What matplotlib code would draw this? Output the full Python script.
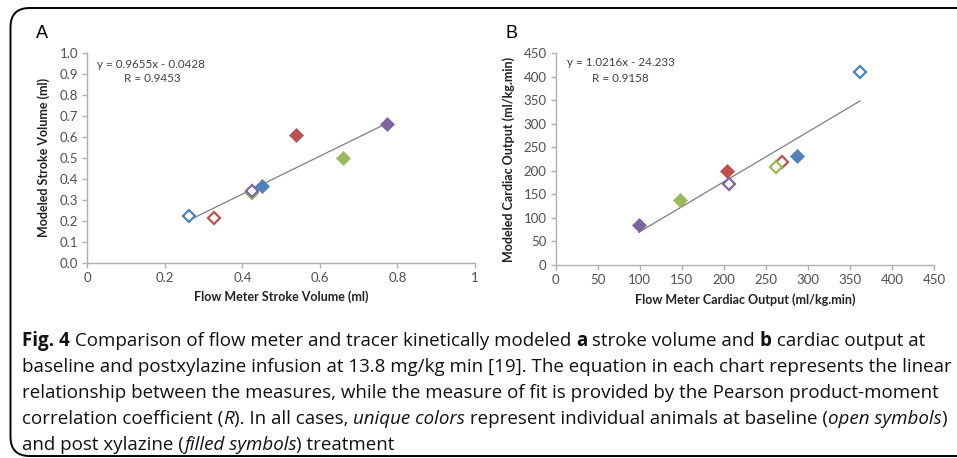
import matplotlib
matplotlib.use("Agg")
import matplotlib.pyplot as plt
from matplotlib.patches import FancyBboxPatch
from matplotlib import font_manager
import numpy as np

names = sorted({f.name for f in font_manager.fontManager.ttflist})

# ---------------- data ----------------
colors = ["#4F81BD", "#C0504D", "#9BBB59", "#8064A2"]  # blue, red, green, purple animals

sv_flow_base = [0.262, 0.328, 0.426, 0.426]
sv_model_base = [0.221, 0.214, 0.333, 0.343]
sv_flow_post = [0.450, 0.539, 0.659, 0.774]
sv_model_post = [0.365, 0.606, 0.498, 0.660]
sv_fit_x = [0.272, 0.772]
sv_fit_y = [0.211, 0.663]
sv_eq = "y = 0.9655x - 0.0428"
sv_r = "R = 0.9453"

co_flow_base = [362.0, 268.8, 262.5, 206.6]
co_model_base = [409.6, 219.0, 207.6, 172.0]
co_flow_post = [287.5, 204.2, 147.9, 98.7]
co_model_post = [231.7, 199.0, 138.0, 84.3]
co_fit_x = [98.7, 362.0]
co_fit_y = [69.5, 348.7]
co_eq = "y = 1.0216x - 24.233"
co_r = "R = 0.9158"

sv_xticks = [0, 0.2, 0.4, 0.6, 0.8, 1]
sv_xticklabels = ["0", "0.2", "0.4", "0.6", "0.8", "1"]
sv_yticks = [0.0, 0.1, 0.2, 0.3, 0.4, 0.5, 0.6, 0.7, 0.8, 0.9, 1.0]
co_xticks = list(range(0, 451, 50))
co_yticks = list(range(0, 451, 50))

W, H = 957, 458
fig = plt.figure(figsize=(W / 100, H / 100), dpi=100)

tick_font = "Lato"
axcol = "#b0b0b0"

def style(ax):
    for s in ["top", "right"]:
        ax.spines[s].set_visible(False)
    for s in ["left", "bottom"]:
        ax.spines[s].set_color(axcol)
        ax.spines[s].set_linewidth(1.0)
    ax.tick_params(direction="out", length=3.5, width=1.0, color=axcol,
                   labelsize=9.5, labelcolor="#505050", pad=3)
    for lab in ax.get_xticklabels() + ax.get_yticklabels():
        lab.set_fontfamily(tick_font)

def scatter(ax, xb, yb, xp, yp):
    for i, c in enumerate(colors):
        ax.plot(xb[i], yb[i], marker="D", ms=6.5, mfc="white", mec=c, mew=1.6,
                ls="none", zorder=3)
        ax.plot(xp[i], yp[i], marker="D", ms=7.5, mfc=c, mec=c, mew=0.5,
                ls="none", zorder=3)

lab_kw = dict(fontfamily=tick_font, fontweight="bold", fontsize=9, color="#222222")
eq_kw = dict(fontfamily=tick_font, fontsize=8.4, color="#404040", va="center", ha="left")

# Panel A
axA = fig.add_axes([87.3 / W, 1 - 262.7 / H, (475 - 87.3) / W, (262.7 - 52.7) / H])
axA.plot(sv_fit_x, sv_fit_y, color="#7f7f7f", lw=0.9, zorder=2)
scatter(axA, sv_flow_base, sv_model_base, sv_flow_post, sv_model_post)
axA.set_xlim(0, 1)
axA.set_ylim(0, 1.0)
axA.set_xticks(sv_xticks)
axA.set_xticklabels(sv_xticklabels)
axA.set_yticks(sv_yticks)
axA.set_yticklabels([f"{v:.1f}" for v in sv_yticks])
style(axA)
axA.set_xlabel("Flow Meter Stroke Volume (ml)", labelpad=5, **lab_kw)
axA.set_ylabel("Modeled Stroke Volume (ml)", labelpad=7, **lab_kw)
fig.text(97 / W, 1 - 64 / H, sv_eq, **eq_kw)
fig.text(124 / W, 1 - 79 / H, sv_r, **eq_kw)
fig.text(36 / W, 1 - 33 / H, "A", fontfamily="Liberation Sans", fontsize=13,
         va="center", ha="left")

# Panel B
axB = fig.add_axes([555.7 / W, 1 - 265 / H, (934 - 555.7) / W, (265 - 53.3) / H])
axB.plot(co_fit_x, co_fit_y, color="#7f7f7f", lw=0.9, zorder=2)
scatter(axB, co_flow_base, co_model_base, co_flow_post, co_model_post)
axB.set_xlim(0, 450)
axB.set_ylim(0, 450)
axB.set_xticks(co_xticks)
axB.set_yticks(co_yticks)
style(axB)
axB.set_xlabel("Flow Meter Cardiac Output (ml/kg.min)", labelpad=5, **lab_kw)
axB.set_ylabel("Modeled Cardiac Output (ml/kg.min)", labelpad=6, **lab_kw)
fig.text(567 / W, 1 - 62 / H, co_eq, **eq_kw)
fig.text(592 / W, 1 - 78 / H, co_r, **eq_kw)
fig.text(505 / W, 1 - 33 / H, "B", fontfamily="Liberation Sans", fontsize=13,
         va="center", ha="left")

# Border
border = FancyBboxPatch((10.5 / W, 1 - 456 / H), (1020 - 10.5) / W, (456 - 8) / H,
                        boxstyle="round,pad=0,rounding_size=0.02",
                        transform=fig.transFigure, fill=False, ec="black", lw=1.4,
                        clip_on=False, mutation_aspect=W / H)
fig.add_artist(border)

# Caption
cap_font = "Liberation Sans Narrow" if "Liberation Sans Narrow" in names else "Open Sans"
cap_size = 13.5
caption = [
    [("Fig. 4", "bold", "normal"), (" Comparison of flow meter and tracer kinetically modeled ", "normal", "normal"),
     ("a", "bold", "normal"), (" stroke volume and ", "normal", "normal"), ("b", "bold", "normal"),
     (" cardiac output at", "normal", "normal")],
    [("baseline and postxylazine infusion at 13.8 mg/kg min [19]. The equation in each chart represents the linear", "normal", "normal")],
    [("relationship between the measures, while the measure of fit is provided by the Pearson product-moment", "normal", "normal")],
    [("correlation coefficient (", "normal", "normal"), ("R", "normal", "italic"),
     ("). In all cases, ", "normal", "normal"), ("unique colors", "normal", "italic"),
     (" represent individual animals at baseline (", "normal", "normal"), ("open symbols", "normal", "italic"),
     (")", "normal", "normal")],
    [("and post xylazine (", "normal", "normal"), ("filled symbols", "normal", "italic"),
     (") treatment", "normal", "normal")],
]
line_y = [341, 367, 393, 419, 445]
fig.canvas.draw()
renderer = fig.canvas.get_renderer()
for pieces, ly in zip(caption, line_y):
    x = 22
    for txt, wt, st in pieces:
        t = fig.text(x / W, 1 - ly / H, txt, fontfamily=cap_font, fontsize=cap_size,
                     fontweight=wt, fontstyle=st, va="center", ha="left", color="#111111")
        bb = t.get_window_extent(renderer=renderer)
        x += bb.width

fig.savefig("out.png", dpi=100)
